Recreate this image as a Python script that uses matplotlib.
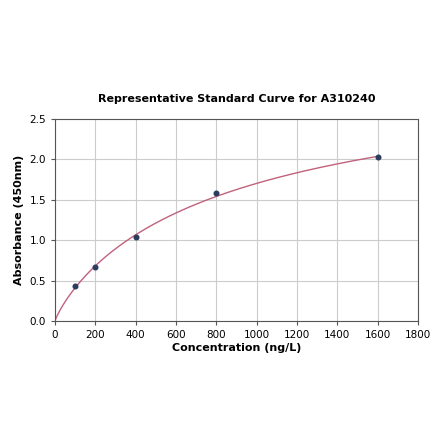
import numpy as np
import matplotlib
matplotlib.use("Agg")
import matplotlib.pyplot as plt

# standard points
conc = [100, 200, 400, 800, 1600]
absorb = [0.437, 0.672, 1.035, 1.58, 2.026]

title = "Representative Standard Curve for A310240"
xlabel = "Concentration (ng/L)"
ylabel = "Absorbance (450nm)"


# fit y = d * x^b / (c^b + x^b), through the origin
def fit_curve(x, y):
    x = np.asarray(x, float)
    y = np.asarray(y, float)
    best = None
    for b in np.linspace(0.4, 1.5, 111):
        for c in np.linspace(100, 5000, 491):
            g = x**b / (c**b + x**b)
            d = np.dot(g, y) / np.dot(g, g)
            err = np.sum((d * g - y) ** 2)
            if best is None or err < best[0]:
                best = (err, b, c, d)
    return best[1:]


b, c, d = fit_curve(conc, absorb)
xs = np.linspace(0, max(conc), 400)
ys = d * xs**b / (c**b + xs**b)

fig = plt.figure(figsize=(4.4, 4.41), dpi=100)
ax = fig.add_axes([0.125, 0.272, 0.825, 0.458])

ax.plot(xs, ys, color="#c0627c", linewidth=1.0, zorder=2)
ax.scatter(conc, absorb, s=11, color="#2b3d5e", zorder=3)

ax.set_xlim(0, 1800)
ax.set_ylim(0, 2.5)
ax.set_xticks(range(0, 1801, 200))
ax.set_yticks(np.arange(0, 2.51, 0.5))
ax.grid(True, color="#cccccc", linewidth=0.8)
ax.set_axisbelow(True)
ax.tick_params(labelsize=7.5, length=3, color="#555555")
for s in ax.spines.values():
    s.set_color("#555555")
    s.set_linewidth(0.8)

ax.set_title(title, fontsize=8, fontweight="bold", pad=12)
ax.set_xlabel(xlabel, fontsize=8, fontweight="bold", labelpad=2)
ax.set_ylabel(ylabel, fontsize=8, fontweight="bold", labelpad=4)

fig.savefig("out.png", dpi=100)
